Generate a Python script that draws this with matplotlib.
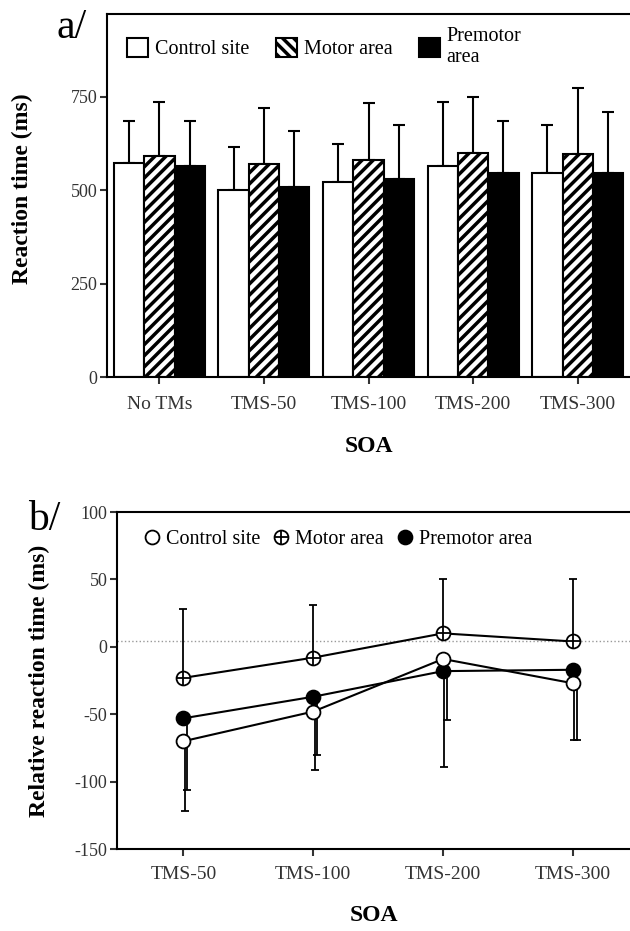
import numpy as np
import matplotlib.pyplot as plt
from matplotlib.patches import Patch
from matplotlib.lines import Line2D
from matplotlib.legend_handler import HandlerTuple

plt.rcParams['font.family'] = ['Liberation Serif', 'DejaVu Serif']
plt.rcParams['hatch.linewidth'] = 2.5
plt.rcParams['axes.unicode_minus'] = False

# panel a: mean reaction time and upper error bar top
soa_a = ['No TMs', 'TMS-50', 'TMS-100', 'TMS-200', 'TMS-300']
control_rt = [573, 500, 523, 565, 547]
control_top = [685, 615, 624, 737, 674]
motor_rt = [592, 570, 582, 601, 597]
motor_top = [737, 719, 733, 751, 773]
premotor_rt = [565, 509, 529, 547, 547]
premotor_top = [686, 659, 674, 686, 710]

# panel b: relative reaction time and error bar ends
soa_b = ['TMS-50', 'TMS-100', 'TMS-200', 'TMS-300']
control_rel = [-70, -48, -9, -27]
control_low = [-122, -91, -89, -69]
motor_rel = [-23, -8, 10, 4]
motor_high = [28, 31, 50, 50]
premotor_rel = [-53, -37, -18, -17]
premotor_low = [-106, -80, -54, -69]
baseline = 4

fig = plt.figure(figsize=(6.3, 9.31), dpi=100)

# ---------------- panel a ----------------
ax1 = fig.add_axes([0.170, 0.595, 0.830, 0.390])
x = np.arange(len(soa_a))
w = 0.29
series = [
    (control_rt, control_top, 'white', None, -w),
    (motor_rt, motor_top, 'white', '///', 0),
    (premotor_rt, premotor_top, 'black', None, w),
]
for vals, tops, fc, hatch, dx in series:
    vals = np.array(vals)
    err = np.array(tops) - vals
    ax1.bar(x + dx, vals, width=w, facecolor=fc, edgecolor='black',
            linewidth=1.5, hatch=hatch, zorder=2)
    ax1.errorbar(x + dx, vals, yerr=[np.zeros_like(err), err], fmt='none',
                 ecolor='black', elinewidth=1.5, capsize=4, capthick=1.5, zorder=1)

ax1.set_xlim(-0.5, 4.5)
ax1.set_ylim(0, 972)
ax1.set_yticks([0, 250, 500, 750])
ax1.set_xticks(x)
ax1.set_xticklabels(soa_a)
ax1.spines['right'].set_visible(False)
for s in ['left', 'bottom', 'top']:
    ax1.spines[s].set_linewidth(1.5)
ax1.tick_params(direction='out', length=5, width=1.5, colors='#333333', pad=2)
ax1.tick_params(axis='y', labelsize=13)
ax1.tick_params(axis='x', labelsize=14, pad=9)
ax1.set_ylabel('Reaction time (ms)', fontsize=17, fontweight='bold')
ax1.yaxis.set_label_coords(-0.141, 0.52)
ax1.set_xlabel('SOA', fontsize=17, fontweight='bold', labelpad=16)
fig.text(0.090, 0.959, 'a/', fontsize=30, ha='left', va='baseline')

handles_a = [
    Patch(facecolor='white', edgecolor='black', linewidth=1.5),
    Patch(facecolor='white', edgecolor='black', linewidth=1.5, hatch='\\\\\\'),
    Patch(facecolor='black', edgecolor='black', linewidth=1.5),
]
ax1.legend(handles_a, ['Control site', 'Motor area', 'Premotor\narea'],
           ncol=3, loc='upper left', bbox_to_anchor=(0.003, 1.015), frameon=False,
           fontsize=14.5, handlelength=1.05, handleheight=1.1, handletextpad=0.35,
           columnspacing=1.3, labelspacing=0.2)

# ---------------- panel b ----------------
ax2 = fig.add_axes([0.186, 0.088, 0.814, 0.362])
xb = np.arange(len(soa_b))

ax2.axhline(baseline, color='#999999', linestyle=':', linewidth=1, zorder=0)

mr = np.array(motor_rel)
ax2.errorbar(xb, mr, yerr=[np.zeros(len(mr)), np.array(motor_high) - mr], fmt='none',
             ecolor='black', elinewidth=1.3, capsize=3, capthick=1.3, zorder=1)
pr = np.array(premotor_rel)
ax2.errorbar(xb + 0.03, pr, yerr=[pr - np.array(premotor_low), np.zeros(len(pr))], fmt='none',
             ecolor='black', elinewidth=1.3, capsize=3, capthick=1.3, zorder=1)
cr = np.array(control_rel)
ax2.errorbar(xb + 0.01, cr, yerr=[cr - np.array(control_low), np.zeros(len(cr))], fmt='none',
             ecolor='black', elinewidth=1.3, capsize=3, capthick=1.3, zorder=1)

ax2.plot(xb, motor_rel, '-o', color='black', lw=1.5, ms=10, mfc='white', mew=1.3, zorder=3)
ax2.plot(xb, motor_rel, '+', color='black', ms=10, mew=1.3, zorder=4)
ax2.plot(xb, premotor_rel, '-o', color='black', lw=1.5, ms=10, mfc='black', mew=1.3, zorder=3)
ax2.plot(xb, control_rel, '-o', color='black', lw=1.5, ms=10, mfc='white', mew=1.3, zorder=5)

ax2.set_xlim(-0.51, 3.44)
ax2.set_ylim(-150, 100)
ax2.set_yticks([-150, -100, -50, 0, 50, 100])
ax2.set_xticks(xb)
ax2.set_xticklabels(soa_b)
ax2.spines['right'].set_visible(False)
for s in ['left', 'bottom', 'top']:
    ax2.spines[s].set_linewidth(1.5)
ax2.tick_params(direction='out', length=5, width=1.5, colors='#333333', pad=2)
ax2.tick_params(axis='y', labelsize=13)
ax2.tick_params(axis='x', labelsize=14, pad=7)
ax2.set_ylabel('Relative reaction time (ms)', fontsize=17, fontweight='bold')
ax2.yaxis.set_label_coords(-0.13, 0.5)
ax2.set_xlabel('SOA', fontsize=17, fontweight='bold', labelpad=16)
fig.text(0.045, 0.431, 'b/', fontsize=30, ha='left', va='baseline')

h_ctrl = Line2D([], [], marker='o', ls='none', color='black', mfc='white', ms=10, mew=1.3)
h_mot = (Line2D([], [], marker='o', ls='none', color='black', mfc='white', ms=10, mew=1.3),
         Line2D([], [], marker='+', ls='none', color='black', ms=10, mew=1.3))
h_pre = Line2D([], [], marker='o', ls='none', color='black', mfc='black', ms=10, mew=1.3)
ax2.legend([h_ctrl, h_mot, h_pre], ['Control site', 'Motor area', 'Premotor area'],
           handler_map={tuple: HandlerTuple(ndivide=1, pad=0)},
           ncol=3, loc='upper left', bbox_to_anchor=(0.016, 1.002), frameon=False,
           fontsize=14.5, handlelength=0.8, handletextpad=0.3, columnspacing=0.65)

fig.savefig('out.png', dpi=100)
